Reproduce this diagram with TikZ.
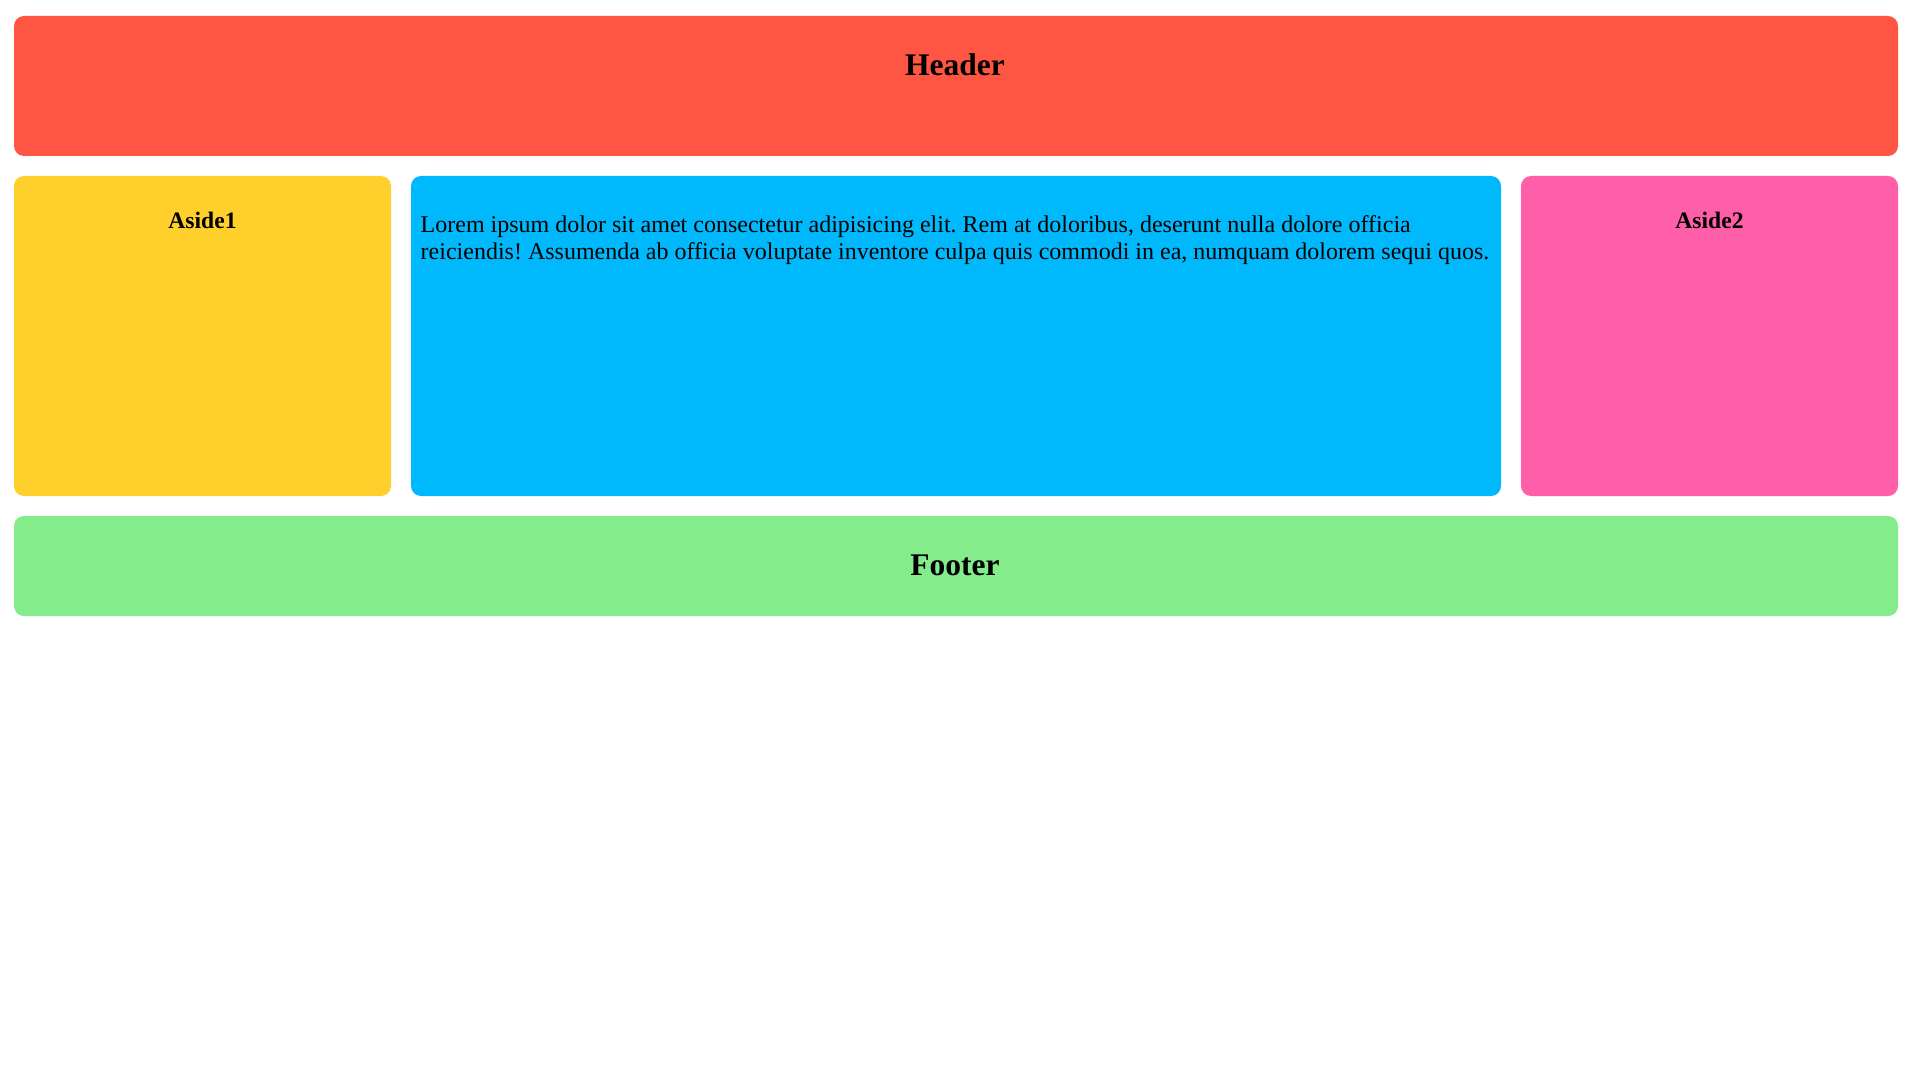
\documentclass[tikz,border=0pt]{standalone}
\usepackage{fontspec}
\setmainfont{Liberation Serif}
\definecolor{hdr}{RGB}{255,86,67}
\definecolor{asa}{RGB}{255,207,43}
\definecolor{mn}{RGB}{0,185,252}
\definecolor{asb}{RGB}{255,94,168}
\definecolor{ftr}{RGB}{132,236,139}
\tikzset{
  panel/.style={rectangle, rounded corners=10pt, inner sep=0pt, draw=none},
  bigtitle/.style={anchor=base, inner sep=0pt, font=\fontsize{31.5}{38}\selectfont\bfseries},
  smalltitle/.style={anchor=base, inner sep=0pt, font=\fontsize{23.6}{28}\selectfont\bfseries},
  bodytext/.style={anchor=base west, inner sep=0pt, align=left, font=\fontsize{24}{27}\selectfont\frenchspacing}
}
\begin{document}
\begin{tikzpicture}[x=1pt,y=-1pt]
\useasboundingbox (0,0) rectangle (1916,1078);
\fill[white] (0,0) rectangle (1916,1078);
\node[panel, fill=hdr, minimum width=1884pt, minimum height=140pt] (header) at (956,86) {};
\node[panel, fill=asa, minimum width=377pt, minimum height=320pt] (aside1) at (202.5,336) {};
\node[panel, fill=mn, minimum width=1090pt, minimum height=320pt] (main) at (956,336) {};
\node[panel, fill=asb, minimum width=377pt, minimum height=320pt] (aside2) at (1709.5,336) {};
\node[panel, fill=ftr, minimum width=1884pt, minimum height=100pt] (footer) at (956,566) {};
\node[bigtitle] (headert) at (955,75.7) {Header};
\node[smalltitle] (aside1t) at (202.5,228.3) {Aside1};
\node[smalltitle] (aside2t) at (1709.5,228.3) {Aside2};
\node[bigtitle] (footert) at (955,575) {Footer};
\node[bodytext] (maint) at (420.5,259.3) {Lorem ipsum dolor sit amet consectetur adipisicing elit. Rem at doloribus, deserunt nulla dolore officia\\reiciendis! Assumenda ab officia voluptate inventore culpa quis commodi in ea, numquam dolorem sequi quos.};
\end{tikzpicture}
\end{document}
